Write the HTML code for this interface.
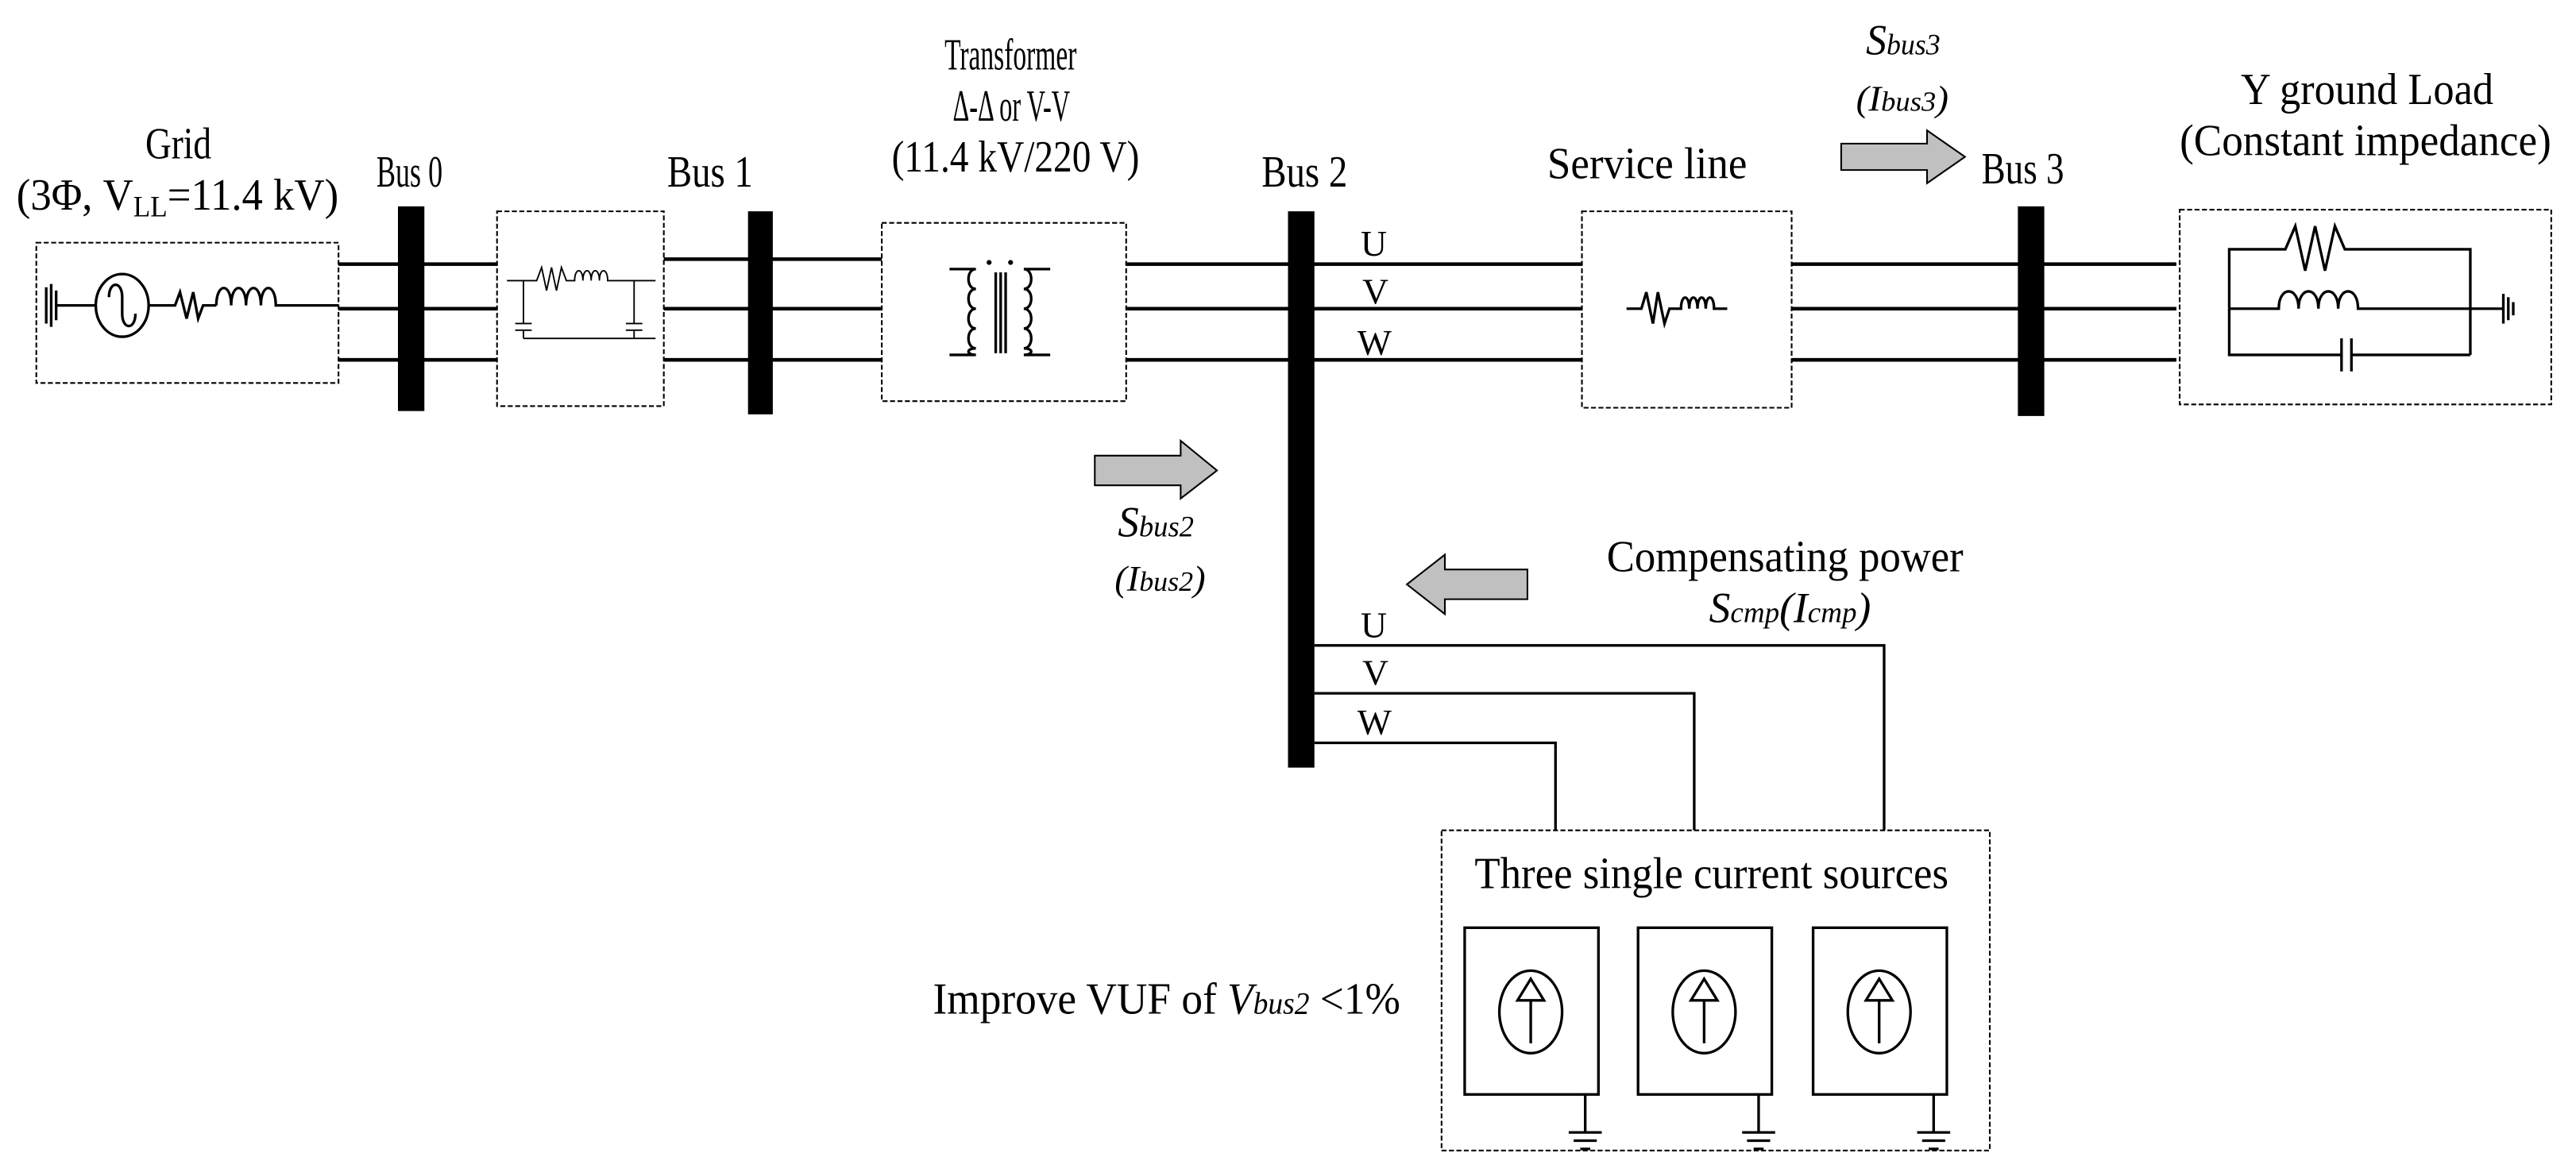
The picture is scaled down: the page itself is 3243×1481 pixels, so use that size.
<!DOCTYPE html>
<html><head><meta charset="utf-8"><style>
html,body{margin:0;padding:0;background:#fff;}
svg{display:block;}
text{font-family:"Liberation Serif",serif;fill:#000;}
</style></head><body>
<svg width="3243" height="1481" viewBox="0 0 1560 712.4" xmlns="http://www.w3.org/2000/svg">
<g font-size="27">
<text x="88" y="96" textLength="40" lengthAdjust="spacingAndGlyphs">Grid</text>
<text x="10" y="127" textLength="195" lengthAdjust="spacingAndGlyphs">(3Φ, V<tspan font-size="18" dy="4">LL</tspan><tspan dy="-4">=11.4 kV)</tspan></text>
<text x="228" y="113" textLength="40" lengthAdjust="spacingAndGlyphs">Bus 0</text>
<text x="404" y="113" textLength="52" lengthAdjust="spacingAndGlyphs">Bus 1</text>
<text x="572" y="42" textLength="80" lengthAdjust="spacingAndGlyphs">Transformer</text>
<text x="577" y="73" textLength="71" lengthAdjust="spacingAndGlyphs">Δ-Δ or V-V</text>
<text x="540" y="104" textLength="150" lengthAdjust="spacingAndGlyphs">(11.4 kV/220 V)</text>
<text x="764" y="113" textLength="52" lengthAdjust="spacingAndGlyphs">Bus 2</text>
<text x="937" y="108" textLength="121" lengthAdjust="spacingAndGlyphs">Service line</text>
<text x="1200" y="111" textLength="50" lengthAdjust="spacingAndGlyphs">Bus 3</text>
<text x="1357" y="63" textLength="153" lengthAdjust="spacingAndGlyphs">Y ground Load</text>
<text x="1320" y="94" textLength="225" lengthAdjust="spacingAndGlyphs">(Constant impedance)</text>
<text x="973" y="346" textLength="216" lengthAdjust="spacingAndGlyphs">Compensating power</text>
<text x="893" y="538" textLength="287" lengthAdjust="spacingAndGlyphs">Three single current sources</text>
<text x="565" y="614" textLength="283" lengthAdjust="spacingAndGlyphs">Improve VUF of <tspan font-style="italic">V<tspan font-size="19">bus2</tspan></tspan> &lt;1%</text>
</g>
<g font-style="italic">
<text x="1130" y="33" font-size="26" textLength="45" lengthAdjust="spacingAndGlyphs">S<tspan font-size="18">bus3</tspan></text>
<text x="1124" y="67" font-size="22" textLength="56" lengthAdjust="spacingAndGlyphs">(I<tspan font-size="17">bus3</tspan>)</text>
<text x="677" y="325" font-size="26" textLength="46" lengthAdjust="spacingAndGlyphs">S<tspan font-size="18">bus2</tspan></text>
<text x="675" y="358" font-size="22" textLength="55" lengthAdjust="spacingAndGlyphs">(I<tspan font-size="17">bus2</tspan>)</text>
<text x="1035" y="377" font-size="26" textLength="98" lengthAdjust="spacingAndGlyphs">S<tspan font-size="18">cmp</tspan>(I<tspan font-size="18">cmp</tspan>)</text>
</g>
<g font-size="22">
<text x="824" y="155">U</text><text x="825" y="184">V</text><text x="822" y="215">W</text>
<text x="824" y="386">U</text><text x="825" y="415">V</text><text x="822" y="445">W</text>
</g>
<!-- dashed boxes -->
<g fill="none" stroke="#000" stroke-width="1" stroke-dasharray="3,1.5">
<rect x="22" y="147" width="183" height="85"/>
<rect x="301" y="128" width="101" height="118"/>
<rect x="534" y="135" width="148" height="108"/>
<rect x="958" y="128" width="127" height="119"/>
<rect x="1320" y="127" width="225" height="118"/>
<rect x="873" y="503" width="332" height="194"/>
</g>
<!-- bus lines -->
<g stroke="#000" stroke-width="2.2" fill="none">
<path d="M205 160H301M205 187H301M205 218H301"/>
<path d="M402 157H534M402 187H534M402 218H534"/>
<path d="M682 160H958M682 187H958M682 218H958"/>
<path d="M1085 160H1318M1085 187H1318M1085 218H1318"/>
</g>
<g stroke="#000" stroke-width="1.6" fill="none">
<path d="M796 391H1141V503M796 420H1026V503M796 450H942V503"/>
</g>
<!-- bus bars -->
<g fill="#000">
<rect x="241" y="125" width="16" height="124"/>
<rect x="453" y="128" width="15" height="123"/>
<rect x="780" y="128" width="16" height="337"/>
<rect x="1222" y="125" width="16" height="127"/>
</g>
<!-- grid source -->
<g stroke="#000" stroke-width="1.6" fill="none">
<path d="M28 174V196M31 172V198M34 176V194"/>
<path d="M34 185H58"/>
<ellipse cx="74" cy="185" rx="16" ry="19"/>
<path d="M66 180C66 170 74 170 74 180V190C74 200 82 200 82 190"/>
<path d="M90 185H106L109 177L113 193L117 177L120 193L123 185H131"/>
<path d="M131 185C131 171 140 171 140 185C140 171 149 171 149 185C149 171 158 171 158 185C158 171 167 171 167 185H205"/>
</g>
<!-- filter -->
<g stroke="#000" stroke-width="0.9" fill="none">
<path d="M307 170H325L328 162L331 176L334 162L337 176L340 162L343 170H348C348 162 353 162 353 170C353 162 358 162 358 170C358 162 363 162 363 170C363 162 368 162 368 170H397"/>
<path d="M317 170V196M317 200V205M312 196H322M312 200H322M317 205H397M384 170V196M384 200V205M379 196H389M379 200H389"/>
</g>
<!-- transformer -->
<g stroke="#000" stroke-width="1.6" fill="none">
<path d="M575 163H591C585 163 585 175 591 175C585 175 585 187 591 187C585 187 585 199 591 199C585 199 585 211 591 211C585 211 585 215 591 215H575"/>
<path d="M636 163H620C626 163 626 175 620 175C626 175 626 187 620 187C626 187 626 199 620 199C626 199 626 211 620 211C626 211 626 215 620 215H636"/>
<path d="M603 165V214M606 165V214M609 165V214"/>
</g>
<circle cx="599" cy="159" r="1.5"/><circle cx="612" cy="159" r="1.5"/>
<!-- service line RL -->
<g stroke="#000" stroke-width="1.6" fill="none">
<path d="M985 187H994L997 177L1001 196L1004 177L1008 196L1011 187H1018C1018 178 1023 178 1023 187C1023 178 1028 178 1028 187C1028 178 1033 178 1033 187C1033 178 1038 178 1038 187H1046"/>
</g>
<!-- load -->
<g stroke="#000" stroke-width="1.6" fill="none">
<path d="M1350 187V151H1384L1390 137L1396 164L1402 137L1408 164L1414 137L1420 151H1496V215"/>
<path d="M1350 187H1380C1380 173 1392 173 1392 187C1392 173 1404 173 1404 187C1404 173 1416 173 1416 187C1416 173 1428 173 1428 187H1516"/>
<path d="M1350 187V215H1418M1424 215H1496M1418 205V225M1424 205V225"/>
<path d="M1516 178V196M1519 180V194M1522 183V191"/>
</g>
<!-- arrows -->
<g fill="#c0c0c0" stroke="#000" stroke-width="1">
<path d="M1115 87H1167V79L1190 95L1167 111V103H1115Z"/>
<path d="M663 276H715V267L737 285L715 302V294H663Z"/>
<path d="M925 345H875V336L852 354L875 372V363H925Z"/>
</g>
<!-- current sources -->
<g stroke="#000" stroke-width="1.6" fill="none">
<g id="cs">
<rect x="887" y="562" width="81" height="101"/>
<ellipse cx="927" cy="613" rx="19" ry="25"/>
<path d="M927 632V606M919 606H935L927 593Z"/>
<path d="M960 663V686M950 686H970M953 691H967M957 696H963"/>
</g>
<use href="#cs" x="105"/>
<use href="#cs" x="211"/>
</g>
</svg>
</body></html>
